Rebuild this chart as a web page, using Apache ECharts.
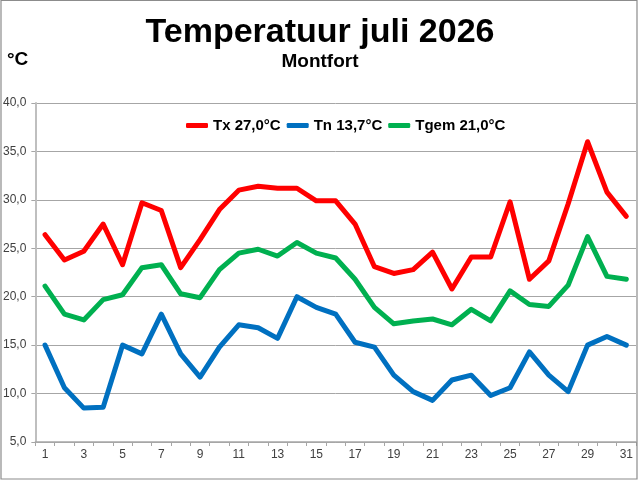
<!DOCTYPE html>
<html>
<head>
<meta charset="utf-8">
<script src="https://cdn.jsdelivr.net/npm/echarts@6/dist/echarts.min.js"></script>
<style>html,body{margin:0;padding:0;background:#fff}#c{width:640px;height:480px}</style>
</head>
<body>
<div id="c"></div>
<script>
var days = ['1','2','3','4','5','6','7','8','9','10','11','12','13','14','15','16','17','18','19','20','21','22','23','24','25','26','27','28','29','30','31'];
var tx = [26.4,23.8,24.7,27.5,23.3,29.7,28.9,23.0,25.9,29.0,31.0,31.4,31.2,31.2,29.9,29.9,27.5,23.1,22.4,22.8,24.6,20.8,24.1,24.1,29.8,21.8,23.7,29.6,36.0,30.8,28.3];
var tn = [15.0,10.6,8.5,8.6,15.0,14.1,18.2,14.1,11.7,14.8,17.1,16.8,15.7,20.0,18.9,18.2,15.3,14.8,11.9,10.2,9.3,11.4,11.9,9.8,10.6,14.3,11.9,10.2,15.0,15.9,15.0];
var tgem = [21.1,18.2,17.6,19.7,20.2,23.0,23.3,20.3,19.9,22.8,24.5,24.9,24.2,25.6,24.5,24.0,21.8,18.9,17.2,17.5,17.7,17.1,18.7,17.5,20.6,19.2,19.0,21.2,26.2,22.1,21.8];
var seriesNames = ['Tx 27,0°C','Tn 13,7°C','Tgem 21,0°C'];
var seriesColors = ['#FF0000','#0070C0','#00B050'];
var titleText = 'Temperatuur juli 2026';
var subText = 'Montfort';
var unitText = '°C';

var chart = echarts.init(document.getElementById('c'), null, {renderer:'canvas'});
var font = 'Liberation Sans, Arial, sans-serif';
function mk(name, data, color){
  return {name:name, type:'line', data:data, symbol:'none', smooth:false,
    lineStyle:{color:color, width:5, join:'round', cap:'round'}, itemStyle:{color:color}, animation:false};
}
chart.setOption({
  animation:false,
  backgroundColor:'#fff',
  title:[
    {text:titleText, left:'center', top:16, padding:0, textStyle:{fontFamily:font, fontSize:34, fontWeight:'bold', color:'#000'}},
    {text:subText, left:'center', top:52, padding:0, textStyle:{fontFamily:font, fontSize:19, fontWeight:'bold', color:'#000'}},
    {text:unitText, left:7, top:50, padding:0, textStyle:{fontFamily:font, fontSize:19, fontWeight:'bold', color:'#000'}}
  ],
  legend:{
    left:181, top:113, itemWidth:22, itemHeight:5, itemGap:6, icon:'roundRect',
    data:seriesNames,
    textStyle:{fontFamily:font, fontSize:15, fontWeight:'bold', color:'#000'}
  },
  graphic:[{type:'rect', shape:{x:1, y:0.5, width:636, height:478.5}, style:{fill:'none', stroke:'#8c8c8c', lineWidth:1.2}, silent:true, z:100}],
  grid:{left:35, right:4, top:103, bottom:38, containLabel:false},
  xAxis:{
    type:'category', data:days, boundaryGap:true,
    axisLine:{lineStyle:{color:'#a6a6a6', width:1.5}},
    axisTick:{show:true, interval:0, length:4, lineStyle:{color:'#a6a6a6'}},
    axisLabel:{interval:1, margin:7, fontFamily:font, fontSize:12, color:'#404040'}
  },
  yAxis:{
    type:'value', min:5, max:40, interval:5,
    axisLine:{show:true, lineStyle:{color:'#bfbfbf', width:2}},
    axisTick:{show:true, length:4, lineStyle:{color:'#a6a6a6'}},
    splitLine:{lineStyle:{color:'#a6a6a6', width:1}},
    axisLabel:{margin:9, fontFamily:font, fontSize:12, color:'#404040', formatter:function(v){return v.toFixed(1).replace('.',',');}}
  },
  series:[mk(seriesNames[0], tx, seriesColors[0]), mk(seriesNames[1], tn, seriesColors[1]), mk(seriesNames[2], tgem, seriesColors[2])]
});
</script>
</body>
</html>
